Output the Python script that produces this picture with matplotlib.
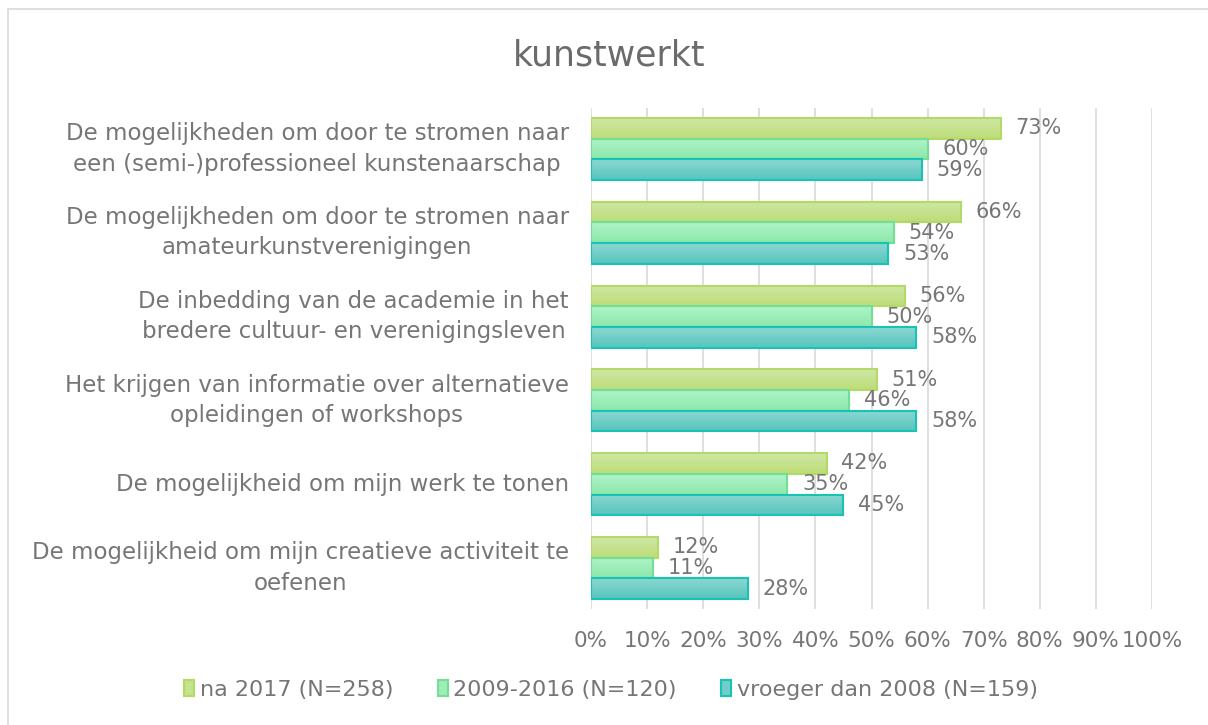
import matplotlib
matplotlib.use("Agg")
import matplotlib.pyplot as plt
import numpy as np
from matplotlib.patches import Rectangle
from matplotlib.colors import to_rgb

categories = [
    "De mogelijkheden om door te stromen naar\neen (semi-)professioneel kunstenaarschap",
    "De mogelijkheden om door te stromen naar\namateurkunstverenigingen",
    "De inbedding van de academie in het\nbredere cultuur- en verenigingsleven",
    "Het krijgen van informatie over alternatieve\nopleidingen of workshops",
    "De mogelijkheid om mijn werk te tonen",
    "De mogelijkheid om mijn creatieve activiteit te\noefenen",
]
series_names = ["na 2017 (N=258)", "2009-2016 (N=120)", "vroeger dan 2008 (N=159)"]
na_2017 = [73, 66, 56, 51, 42, 12]
y_2009_2016 = [60, 54, 50, 46, 35, 11]
vroeger_2008 = [59, 53, 58, 58, 45, 28]
x_ticks = [0, 10, 20, 30, 40, 50, 60, 70, 80, 90, 100]

# light (top) and dark (bottom) ends of each series' gradient fill
grad_top = ["#d0e7a6", "#aef3c8", "#8cd8d2"]
grad_bottom = ["#bcdd76", "#8ce8aa", "#55c5bd"]
legend_faces = ["#c6e28e", "#9eedb9", "#70cfc8"]
edge_colors = ["#b2da66", "#72de96", "#18c3b5"]
text_grey = "#767676"

plt.rcParams["font.family"] = ["DejaVu Sans"]

fig = plt.figure(figsize=(12.08, 7.25), dpi=100)
ax = fig.add_axes([591 / 1208, 1 - 609 / 725, 561 / 1208, 501 / 725])

series = [na_2017, y_2009_2016, vroeger_2008]
n = len(categories)
ypos = np.arange(n)
bh = 0.247
offsets = [-bh, 0, bh]


def gradient_image(c_top, c_bottom, steps=64):
    t = np.linspace(0, 1, steps)[:, None]
    a = np.array(to_rgb(c_top))
    b = np.array(to_rgb(c_bottom))
    return (a * (1 - t) + b * t)[:, None, :]


for i, (vals, off, ec, name) in enumerate(zip(series, offsets, edge_colors, series_names)):
    bars = ax.barh(ypos + off, vals, height=bh, facecolor="none", edgecolor=ec,
                   linewidth=1.5, zorder=3)
    img = gradient_image(grad_top[i], grad_bottom[i])
    for bar in bars:
        x0, y0 = bar.get_x(), bar.get_y()
        w, h = bar.get_width(), bar.get_height()
        im = ax.imshow(img, extent=(x0, x0 + w, y0 + h, y0), origin="upper",
                       aspect="auto", zorder=2.9, interpolation="bilinear")
        im.set_clip_path(bar)
    # proxy handle for the legend
    ax.barh([np.nan], [np.nan], color=legend_faces[i], edgecolor=ec,
            linewidth=1.5, label=name)
    for y, v in zip(ypos + off, vals):
        ax.text(v + 2.6, y, f"{v}%", va="center", ha="left", fontsize=15,
                color=text_grey, zorder=4)

ax.set_xlim(0, 100)
ax.set_ylim(n - 0.51, -0.49)
ax.set_xticks(x_ticks)
ax.set_xticklabels([f"{t}%" for t in x_ticks], fontsize=15.5, color=text_grey)
ax.set_yticks(ypos)
ax.set_yticklabels(categories, fontsize=16.5, color=text_grey, va="center",
                   multialignment="center", linespacing=1.4)
ax.tick_params(axis="both", length=0)
ax.tick_params(axis="x", pad=16)
ax.tick_params(axis="y", pad=16)
ax.grid(axis="x", color="#d9d9d9", linewidth=1.2, zorder=0)
for s in ax.spines.values():
    s.set_visible(False)

fig.text(609 / 1208, 1 - 55 / 725, "kunstwerkt", ha="center", va="center",
         fontsize=25, color="#6b6b6b")

leg = fig.legend(loc="center", bbox_to_anchor=(611 / 1208, 1 - 690 / 725), ncol=3,
                 frameon=False, fontsize=16, handlelength=0.45, handleheight=0.75,
                 handletextpad=0.25, columnspacing=2.0)
for t in leg.get_texts():
    t.set_color(text_grey)

fig.patches.append(Rectangle((8 / 1208, -0.05), 1.1, 1 - 9 / 725 + 0.05,
                             transform=fig.transFigure, fill=False,
                             edgecolor="#d9d9d9", linewidth=1.2))

fig.savefig("out.png", dpi=100)
